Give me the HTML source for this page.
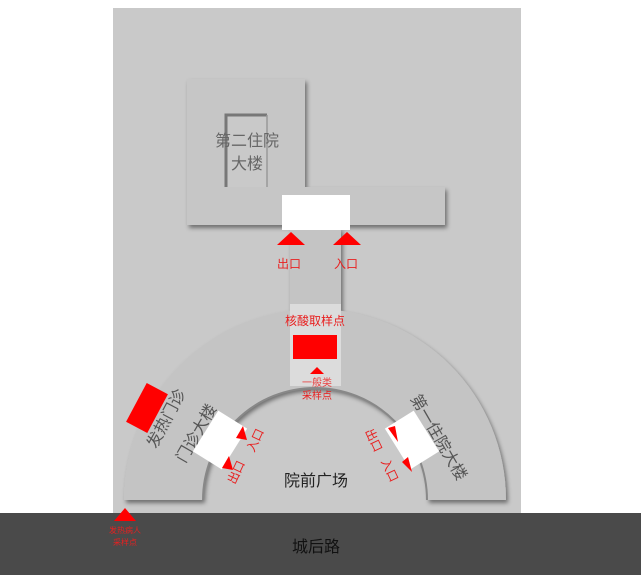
<!DOCTYPE html>
<html><head><meta charset="utf-8"><style>
html,body{margin:0;padding:0;background:#fff;}
svg{display:block;font-family:"Liberation Sans","Noto Sans CJK SC",sans-serif;}
</style></head><body>
<svg width="641" height="575" viewBox="0 0 641 575">
<defs>
<filter id="sh" x="-10%" y="-10%" width="130%" height="130%"><feDropShadow dx="2" dy="3" stdDeviation="2" flood-color="#000" flood-opacity="0.45"/></filter>
</defs>
<rect x="0" y="0" width="641" height="575" fill="#fff"/>
<rect x="113" y="8" width="408" height="510" fill="#c9c9c9"/>
<!-- L building -->
<path d="M187 79 H305 V187 H445 V225 H187 Z" fill="#c6c6c6" filter="url(#sh)"/>
<rect x="226" y="115" width="41" height="72" fill="#c9c9c9"/>
<path d="M226 187 V115 H267" fill="none" stroke="#777" stroke-width="3"/>
<path d="M267 115 V187" fill="none" stroke="#999" stroke-width="1.5"/>
<text x="247" y="146" font-size="16" fill="#666" text-anchor="middle">第二住院</text>
<text x="247" y="169" font-size="16" fill="#666" text-anchor="middle">大楼</text>
<!-- corridor -->
<rect x="290" y="228" width="51" height="90" fill="#c4c4c4" filter="url(#sh)"/>
<rect x="282" y="195" width="68" height="35" fill="#fff"/>
<polygon points="277,245 291,232 305,245" fill="#f00"/>
<polygon points="333,245 347,232 361,245" fill="#f00"/>
<text x="289" y="268" font-size="12" fill="#e82020" text-anchor="middle">出口</text>
<text x="346" y="268" font-size="12" fill="#e82020" text-anchor="middle">入口</text>
<!-- arc -->
<path d="M124 500 A191 191 0 0 1 506 500 L427 500 A112 112 0 0 0 203 500 Z" fill="#c4c4c4" filter="url(#sh)"/>
<rect x="290" y="304" width="51" height="82" fill="#dcdcdc"/>
<path d="M203 500 A112 112 0 0 1 427 500" fill="none" stroke="#888" stroke-width="2"/>
<text x="315" y="325" font-size="12" fill="#e82020" text-anchor="middle">核酸取样点</text>
<rect x="293" y="335" width="44" height="24" fill="#f00"/>
<polygon points="310,374 317,367 324,374" fill="#f00"/>
<text x="317" y="386" font-size="10" fill="#e84040" text-anchor="middle">一般类</text>
<text x="317" y="399" font-size="10" fill="#e82020" text-anchor="middle">采样点</text>
<!-- fever clinic -->
<rect x="-22" y="-12" width="44" height="24" fill="#f00" transform="translate(147,408) rotate(-62)"/>
<text x="0" y="0" font-size="16" fill="#555" text-anchor="middle" transform="translate(171,421) rotate(-62)">发热门诊</text>
<!-- outpatient -->
<rect x="-17" y="-24" width="34" height="48" fill="#fff" transform="translate(220,440) rotate(32)"/>
<text x="0" y="0" font-size="16" fill="#555" text-anchor="middle" transform="translate(201,436) rotate(-60)">门诊大楼</text>
<polygon points="236,438 243,426 247,440" fill="#f00"/>
<polygon points="222,468 229,456 233,470" fill="#f00"/>
<text x="0" y="0" font-size="12" fill="#e82020" text-anchor="middle" transform="translate(259,442) rotate(-65)">入口</text>
<text x="0" y="0" font-size="12" fill="#e82020" text-anchor="middle" transform="translate(240,474) rotate(-65)">出口</text>
<!-- first inpatient -->
<rect x="-17" y="-24" width="34" height="48" fill="#fff" transform="translate(412,440) rotate(-32)"/>
<text x="0" y="0" font-size="16" fill="#555" text-anchor="middle" transform="translate(434,440) rotate(60)">第一住院大楼</text>
<polygon points="388,428 395,426 398,442" fill="#f00"/>
<polygon points="402,462 408,457 412,472" fill="#f00"/>
<text x="0" y="0" font-size="12" fill="#e82020" text-anchor="middle" transform="translate(370,442) rotate(65)">出口</text>
<text x="0" y="0" font-size="12" fill="#e82020" text-anchor="middle" transform="translate(386,472) rotate(65)">入口</text>
<text x="316" y="486" font-size="16" fill="#222" text-anchor="middle">院前广场</text>
<!-- road -->
<rect x="0" y="513" width="641" height="62" fill="#4a4a4a"/>
<polygon points="114,521 125,508 136,521" fill="#f00"/>
<text x="125" y="533" font-size="8" fill="#e82020" text-anchor="middle">发热病人</text>
<text x="125" y="545" font-size="8" fill="#e82020" text-anchor="middle">采样点</text>
<text x="316" y="552" font-size="16" fill="#111" text-anchor="middle">城后路</text>
</svg>
</body></html>
